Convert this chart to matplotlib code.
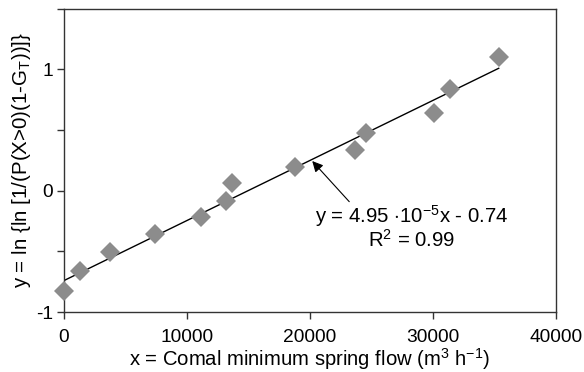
import numpy as np
import matplotlib
matplotlib.use('Agg')
import matplotlib.pyplot as plt

plt.rcParams['font.family'] = ['Liberation Sans', 'DejaVu Sans']
plt.rcParams['mathtext.fontset'] = 'custom'
plt.rcParams['mathtext.rm'] = 'Liberation Sans'
plt.rcParams['mathtext.it'] = 'Liberation Sans'
plt.rcParams['axes.unicode_minus'] = False

# minimum spring flow vs transformed probability
flow = [0, 1300, 3740, 7390, 11120, 13160, 13620, 18780, 23680, 24530, 30050, 31400, 35340]
yval = [-0.825, -0.66, -0.505, -0.36, -0.22, -0.083, 0.06, 0.195, 0.333, 0.48, 0.64, 0.836, 1.1]
slope = 4.95e-5
intercept = -0.74
fit_x = [0, 35340]
xticks = [0, 10000, 20000, 30000, 40000]
yticks = [-1, 0, 1]
yminor = [-0.5, 0.5, 1.5]


def main():
    fig = plt.figure(figsize=(5.84, 3.72), dpi=100)
    ax = fig.add_axes([0.1096, 0.161, 0.8425, 0.8155])

    fx = np.array(fit_x)
    ax.plot(fx, slope * fx + intercept, color='black', lw=1.0, zorder=2)
    ax.plot(flow, yval, 'D', color='#8c8c8c', markersize=10.5, markeredgewidth=0,
            zorder=3, clip_on=False)

    ax.set_xlim(0, 40000)
    ax.set_ylim(-1, 1.5)
    ax.set_xticks(xticks)
    ax.set_yticks(yticks)
    ax.set_yticks(yminor, minor=True)
    ax.tick_params(axis='both', which='both', direction='out', length=5, width=1,
                   color='#333333', labelsize=13.8)
    ax.tick_params(axis='x', pad=7)
    ax.tick_params(axis='y', pad=3)

    for s in ax.spines.values():
        s.set_color('#333333')
        s.set_linewidth(1.0)

    ax.set_xlabel('x = Comal minimum spring flow (m$^3$ h$^{-1}$)', fontsize=14.6, labelpad=0)
    ax.set_ylabel('y = ln {ln [1/(P(X>0)(1-G$_\\mathrm{T}$))]}', fontsize=14.8, labelpad=2)

    ax.annotate('', xy=(20180, 0.245), xytext=(23190, -0.09),
                arrowprops=dict(arrowstyle='-|>', color='black', lw=0.8,
                                mutation_scale=16, shrinkA=0, shrinkB=0))
    ax.text(28270, -0.206, 'y = 4.95 $\\cdot$10$^{-5}$x - 0.74', fontsize=14.7,
            ha='center', va='center')
    ax.text(28270, -0.403, 'R$^2$ = 0.99', fontsize=14.7, ha='center', va='center')

    fig.savefig('out.png', dpi=100)


if __name__ == '__main__':
    main()
